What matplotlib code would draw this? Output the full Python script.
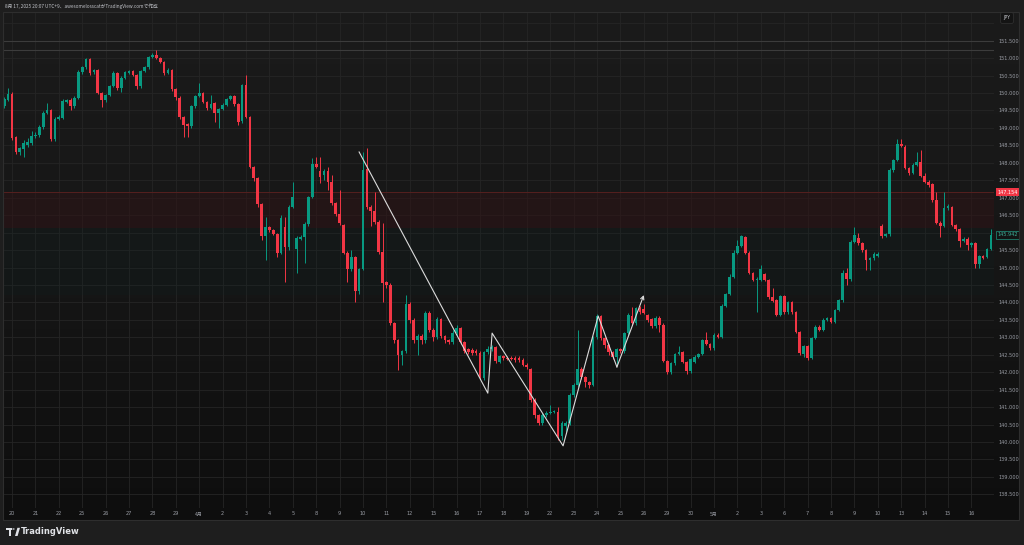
import numpy as np
import matplotlib
import matplotlib.pyplot as plt
from matplotlib.colors import LinearSegmentedColormap
from matplotlib.patches import Rectangle, Polygon, Circle

matplotlib.use("Agg")

plt.rcParams["font.family"] = ["DejaVu Sans", "Noto Sans CJK JP"]
CJK = ["Noto Sans CJK JP", "DejaVu Sans"]

# USD/JPY 4h candles, 19 Mar - 16 May
opens = [
    149.64, 149.80, 149.97, 148.74, 148.31, 148.40, 148.50, 148.57, 148.77, 148.80,
    149.03, 149.43, 149.51, 148.68, 149.26, 149.28, 149.74, 149.80, 149.63, 149.86,
    150.60, 150.74, 150.97, 150.60, 150.66, 150.00, 149.80, 149.94, 150.20, 150.57,
    150.14, 150.43, 150.58, 150.62, 150.52, 150.20, 150.63, 150.74, 151.03, 151.09,
    151.00, 150.89, 150.57, 150.66, 150.11, 149.86, 149.31, 149.11, 149.05, 149.63,
    149.91, 150.00, 149.74, 149.57, 149.71, 149.43, 149.54, 149.66, 149.83, 149.91,
    149.68, 149.20, 150.22, 149.31, 147.88, 147.56, 146.82, 145.90, 146.16, 146.07,
    145.96, 145.42, 146.16, 145.59, 146.73, 145.53, 145.82, 145.87, 146.25, 147.02,
    147.97, 147.77, 147.65, 147.77, 147.45, 146.85, 146.53, 146.22, 145.42, 144.96,
    145.30, 144.33, 144.96, 147.82, 146.73, 146.62, 146.30, 145.44, 144.58, 144.50,
    143.41, 142.92, 142.50, 142.60, 143.95, 143.50, 142.92, 143.04, 142.92, 143.70,
    143.21, 143.00, 143.52, 143.04, 142.92, 142.86, 143.12, 143.27, 142.86, 142.66,
    142.64, 142.62, 142.55, 141.83, 142.58, 142.66, 142.72, 142.29, 142.46, 142.42,
    142.42, 142.42, 142.42, 142.35, 142.21, 142.09, 141.20, 140.77, 140.54, 140.77,
    140.83, 140.86, 140.86, 140.17, 140.45, 140.55, 141.35, 141.63, 142.09, 141.86,
    141.72, 141.63, 143.01, 143.61, 142.98, 142.78, 142.58, 142.44, 142.66, 142.60,
    143.12, 143.61, 143.41, 143.84, 143.81, 143.64, 143.52, 143.32, 143.55, 143.35,
    142.32, 142.01, 142.26, 142.52, 142.58, 142.29, 142.03, 142.30, 142.44, 142.52,
    142.92, 142.81, 142.69, 143.07, 143.01, 143.90, 144.24, 144.73, 145.42, 145.62,
    145.87, 145.42, 144.84, 144.64, 144.64, 144.80, 144.64, 144.15, 144.07, 143.64,
    144.18, 143.72, 144.01, 143.72, 143.15, 142.52, 142.75, 142.41, 142.98, 143.30,
    143.21, 143.50, 143.55, 143.44, 143.78, 144.07, 144.84, 144.67, 145.73, 145.85,
    145.70, 145.50, 145.21, 145.27, 145.33, 146.19, 145.90, 145.96, 147.79, 148.08,
    148.54, 148.45, 147.85, 147.71, 147.94, 148.02, 147.62, 147.45, 147.39, 146.93,
    146.28, 146.19, 146.70, 146.73, 146.22, 146.10, 145.76, 145.82, 145.64, 145.70,
    145.10, 145.33, 145.30, 145.53,
]
highs = [
    149.88, 150.14, 150.02, 148.78, 148.46, 148.65, 148.72, 148.90, 148.88, 149.08,
    149.48, 149.71, 149.55, 149.30, 149.36, 149.82, 149.84, 149.86, 149.90, 150.65,
    150.78, 151.01, 151.00, 150.70, 150.70, 150.03, 149.98, 150.24, 150.62, 150.61,
    150.48, 150.64, 150.66, 150.65, 150.55, 150.66, 150.78, 151.06, 151.15, 151.23,
    151.03, 150.92, 150.72, 150.70, 150.14, 149.90, 149.34, 149.14, 149.67, 149.95,
    150.29, 150.04, 149.78, 149.94, 149.74, 149.58, 149.70, 149.87, 149.95, 149.95,
    149.71, 150.26, 150.52, 149.34, 147.92, 147.60, 146.86, 146.45, 146.20, 146.10,
    146.00, 146.50, 146.45, 146.78, 147.45, 145.90, 145.92, 146.30, 147.06, 148.14,
    148.17, 148.17, 147.82, 147.88, 147.65, 146.88, 147.22, 146.26, 145.46, 145.50,
    145.34, 145.00, 148.31, 148.42, 146.78, 147.16, 146.35, 146.27, 144.62, 144.55,
    143.45, 142.96, 142.65, 144.21, 144.00, 143.55, 143.10, 143.10, 143.75, 143.75,
    143.26, 143.58, 143.56, 143.08, 142.95, 143.20, 143.35, 143.30, 142.90, 142.70,
    142.68, 142.66, 142.60, 142.62, 142.75, 142.78, 142.75, 142.50, 142.50, 142.46,
    142.46, 142.46, 142.46, 142.42, 142.25, 142.12, 141.25, 140.80, 140.82, 140.88,
    141.06, 140.92, 141.00, 140.60, 140.60, 141.40, 141.70, 143.20, 142.15, 141.90,
    141.76, 143.05, 143.66, 143.65, 143.00, 142.82, 142.62, 142.70, 142.70, 143.16,
    143.70, 143.87, 143.88, 143.90, 143.95, 143.68, 143.56, 143.60, 143.60, 143.40,
    142.36, 142.30, 142.56, 142.75, 142.62, 142.33, 142.42, 142.48, 142.56, 142.96,
    143.15, 142.85, 143.11, 143.11, 143.94, 144.28, 144.81, 145.50, 145.79, 145.93,
    145.91, 145.46, 144.88, 144.72, 145.07, 144.84, 144.68, 144.41, 144.11, 144.22,
    144.22, 144.05, 144.05, 143.76, 143.19, 142.79, 142.79, 143.02, 143.34, 143.34,
    143.54, 143.59, 143.59, 143.82, 144.11, 144.93, 145.00, 145.80, 146.16, 145.99,
    145.74, 145.54, 145.31, 145.45, 145.45, 146.25, 146.00, 147.85, 148.12, 148.68,
    148.68, 148.50, 147.89, 148.00, 148.31, 148.37, 147.70, 147.50, 147.43, 147.16,
    146.32, 147.16, 146.82, 146.77, 146.26, 146.14, 145.86, 145.86, 145.74, 145.74,
    145.37, 145.37, 145.57, 146.10,
]
lows = [
    149.58, 149.76, 148.66, 148.25, 148.22, 148.17, 148.45, 148.52, 148.72, 148.75,
    148.98, 149.40, 148.62, 148.62, 149.22, 149.25, 149.70, 149.51, 149.58, 149.82,
    150.55, 150.70, 150.52, 150.55, 149.96, 149.60, 149.75, 149.90, 150.16, 150.08,
    150.03, 150.40, 150.55, 150.48, 150.12, 150.15, 150.60, 150.70, 151.00, 150.97,
    150.85, 150.52, 150.54, 150.05, 149.80, 149.25, 148.74, 148.74, 149.00, 149.58,
    149.88, 149.70, 149.52, 149.53, 149.17, 149.00, 149.50, 149.62, 149.80, 149.62,
    149.08, 149.15, 149.28, 147.84, 147.48, 146.73, 145.79, 145.21, 146.02, 145.92,
    145.30, 145.38, 144.58, 145.50, 146.70, 144.84, 145.78, 145.13, 146.20, 146.98,
    147.84, 147.42, 147.51, 147.22, 146.79, 146.48, 146.22, 145.38, 144.58, 144.90,
    144.01, 144.24, 144.92, 146.68, 146.19, 146.25, 145.40, 144.01, 144.40, 143.35,
    142.85, 142.06, 142.20, 142.55, 143.40, 142.85, 142.50, 142.80, 142.85, 143.15,
    142.90, 142.95, 142.98, 142.85, 142.80, 142.80, 143.05, 142.80, 142.55, 142.52,
    142.50, 142.48, 141.80, 141.78, 142.52, 142.60, 142.25, 142.25, 142.35, 142.34,
    142.34, 142.30, 142.30, 142.18, 142.10, 141.15, 140.70, 140.48, 140.50, 140.72,
    140.80, 140.82, 140.06, 140.05, 140.28, 140.50, 141.30, 141.58, 141.80, 141.58,
    141.55, 141.60, 142.96, 142.92, 142.70, 142.50, 142.38, 142.20, 142.55, 142.56,
    143.08, 143.35, 143.35, 143.68, 143.66, 143.45, 143.28, 143.28, 143.15, 142.28,
    141.95, 141.96, 142.22, 142.48, 142.25, 141.95, 141.99, 142.26, 142.40, 142.48,
    142.78, 142.65, 142.65, 142.97, 142.97, 143.86, 144.20, 144.70, 145.38, 145.58,
    145.38, 144.80, 144.60, 143.72, 144.60, 144.60, 144.10, 144.00, 143.60, 143.60,
    143.68, 143.68, 143.68, 143.11, 142.48, 142.44, 142.35, 142.37, 142.94, 143.17,
    143.17, 143.46, 143.40, 143.40, 143.74, 144.00, 144.50, 144.60, 145.70, 145.65,
    145.45, 144.93, 144.93, 145.22, 145.29, 145.85, 145.86, 145.90, 147.75, 148.04,
    148.44, 147.81, 147.65, 147.67, 147.90, 147.58, 147.41, 147.30, 146.89, 146.24,
    145.87, 146.15, 146.66, 146.18, 146.06, 145.60, 145.72, 145.50, 145.60, 144.99,
    144.99, 145.23, 145.26, 145.49,
]
closes = [
    149.82, 149.96, 148.70, 148.31, 148.42, 148.57, 148.60, 148.77, 148.80, 149.03,
    149.43, 149.51, 148.68, 149.26, 149.31, 149.77, 149.80, 149.63, 149.86, 150.60,
    150.74, 150.97, 150.57, 150.66, 150.00, 149.80, 149.94, 150.20, 150.57, 150.14,
    150.43, 150.60, 150.63, 150.52, 150.20, 150.63, 150.74, 151.03, 151.09, 151.00,
    150.89, 150.57, 150.66, 150.11, 149.89, 149.31, 149.08, 149.05, 149.63, 149.91,
    150.00, 149.74, 149.57, 149.68, 149.43, 149.54, 149.66, 149.83, 149.91, 149.68,
    149.17, 150.22, 149.31, 147.88, 147.56, 146.82, 145.90, 146.16, 146.07, 145.96,
    145.42, 146.42, 145.59, 146.73, 147.02, 145.85, 145.87, 146.25, 147.02, 147.97,
    147.88, 147.59, 147.77, 147.45, 146.85, 146.53, 146.27, 145.42, 144.96, 145.30,
    144.33, 144.96, 147.79, 146.73, 146.62, 146.30, 145.44, 144.56, 144.50, 143.41,
    142.92, 142.50, 142.60, 143.95, 143.50, 142.92, 143.04, 142.92, 143.70, 143.21,
    143.00, 143.52, 143.04, 142.92, 142.86, 143.12, 143.27, 142.86, 142.61, 142.58,
    142.55, 142.55, 141.86, 142.58, 142.66, 142.72, 142.32, 142.46, 142.40, 142.38,
    142.38, 142.35, 142.35, 142.21, 142.15, 141.20, 140.77, 140.54, 140.77, 140.83,
    140.86, 140.88, 140.17, 140.54, 140.55, 141.35, 141.63, 142.09, 141.86, 141.72,
    141.63, 143.01, 143.61, 142.98, 142.78, 142.58, 142.44, 142.66, 142.60, 143.12,
    143.64, 143.41, 143.84, 143.72, 143.70, 143.50, 143.32, 143.55, 143.35, 142.32,
    142.01, 142.26, 142.52, 142.58, 142.29, 142.03, 142.38, 142.44, 142.52, 142.92,
    142.81, 142.69, 143.07, 143.01, 143.90, 144.24, 144.73, 145.42, 145.62, 145.90,
    145.42, 144.84, 144.64, 144.67, 144.96, 144.64, 144.15, 144.04, 143.64, 144.18,
    143.72, 144.01, 143.72, 143.15, 142.55, 142.75, 142.41, 142.98, 143.30, 143.21,
    143.50, 143.55, 143.44, 143.78, 144.07, 144.84, 144.67, 145.73, 145.93, 145.70,
    145.50, 145.21, 145.27, 145.39, 145.39, 145.90, 145.96, 147.79, 148.08, 148.54,
    148.48, 147.85, 147.71, 147.94, 148.02, 147.62, 147.45, 147.36, 146.93, 146.28,
    146.19, 146.70, 146.76, 146.22, 146.10, 145.76, 145.82, 145.64, 145.70, 145.10,
    145.33, 145.27, 145.53, 145.942,
]

# one label per trading day, six 4h bars a day, first bar of day "20" is bar 2
day_labels = ["20", "21", "22", "25", "26", "27", "28", "29", "4月", "2", "3", "4", "5",
              "8", "9", "10", "11", "12", "15", "16", "17", "18", "19", "22", "23", "24",
              "25", "26", "29", "30", "5月", "2", "3", "6", "7", "8", "9", "10", "13",
              "14", "15", "16"]
bars_per_day = 6
first_day_bar = 2

# hand-drawn zigzag (bar index, price)
zz_bar = [91.0, 124.0, 125.1, 143.3, 152.3, 157.1, 164.0]
zz_price = [148.31, 141.40, 143.12, 139.89, 143.61, 142.15, 144.21]

hlines = [151.5, 151.22]
alert_price = 147.154
last_price = 145.942

UP, DOWN = "#089981", "#f23645"
W, H = 1024, 545


def fig_box(x0, y0, x1, y1):
    return [x0 / W, 1 - y1 / H, (x1 - x0) / W, (y1 - y0) / H]


fig = plt.figure(figsize=(W / 100, H / 100), dpi=100, facecolor="#1e1e1e")

# panel background with the dark vertical gradient
bg = fig.add_axes(fig_box(3, 12, 1019, 520))
grad = LinearSegmentedColormap.from_list("bg", ["#0e0e0e", "#161616", "#1b1b1b"])
bg.imshow(np.linspace(0, 1, 256)[:, None], aspect="auto", cmap=grad, origin="lower",
          extent=[0, 1, 0, 1])
bg.set_xlim(0, 1)
bg.set_ylim(0, 1)
bg.axis("off")
fig.patches.append(Rectangle((3 / W, 1 - 520 / H), 1016 / W, 508 / H, transform=fig.transFigure,
                             fill=False, ec="#2e2e2e", lw=0.8))

ax = fig.add_axes(fig_box(3, 12, 994, 508))
ax.patch.set_alpha(0)
for s in ax.spines.values():
    s.set_visible(False)

o = np.array(opens)
h = np.array(highs)
l = np.array(lows)
c = np.array(closes)
x = np.arange(len(o))
cols = np.where(c >= o, UP, DOWN)

ax.set_xlim(-0.31, 253.79)
ax.set_ylim(138.109, 152.321)

# grid and axes labels
yt = np.arange(138.5, 152.01, 0.5)
ax.set_yticks(yt)
ax.set_yticklabels([f"{v:.3f}" if v < 152 else "" for v in yt])
xt = [first_day_bar + bars_per_day * k for k in range(len(day_labels))]
ax.set_xticks(xt)
ax.set_xticklabels(day_labels)
for lab in ax.get_xticklabels():
    if "月" in lab.get_text():
        lab.set_fontfamily(CJK)
        lab.set_color("#c4c6cc")
ax.yaxis.tick_right()
ax.tick_params(axis="y", length=0, pad=3, labelsize=3.6, colors="#9a9da5")
ax.tick_params(axis="x", length=0, pad=2.5, labelsize=3.6, colors="#9a9da5")
ax.grid(color="#252525", lw=0.6)
ax.set_axisbelow(True)

# shaded zones and drawn levels
ax.axhspan(146.13, alert_price, color="#301416", alpha=0.5, lw=0, zorder=1)
ax.axhspan(144.2, 146.13, color="#0f2422", alpha=0.2, lw=0, zorder=1)
ax.axhline(alert_price, color="#55201f", lw=0.7, zorder=1)
for v in hlines:
    ax.axhline(v, color="#3c3c3c", lw=0.8, zorder=1)

# candles
ax.vlines(x, l, h, colors=cols, lw=0.7, zorder=3)
ax.bar(x, np.maximum(np.abs(c - o), 0.02), bottom=np.minimum(o, c), width=0.68,
       color=cols, lw=0, zorder=4)

# zigzag drawing with arrow
ax.plot(zz_bar[:-1], zz_price[:-1], color="#dcdcdc", lw=0.8, zorder=6)
ax.annotate("", xy=(zz_bar[-1], zz_price[-1]), xytext=(zz_bar[-2], zz_price[-2]),
            arrowprops=dict(arrowstyle="->", color="#dcdcdc", lw=0.8, mutation_scale=6,
                            shrinkA=0, shrinkB=0), zorder=6)

# price scale labels
ytr = ax.get_yaxis_transform()
ax.text(1.0035, alert_price, f"{alert_price:.3f}", transform=ytr, ha="left", va="center",
        fontsize=3.6, color="white", zorder=8,
        bbox=dict(boxstyle="square,pad=0.3", fc=DOWN, ec="none"))
ax.text(1.0035, last_price, f"{last_price:.3f}", transform=ytr, ha="left", va="center",
        fontsize=3.6, color="#3fae98", zorder=8,
        bbox=dict(boxstyle="square,pad=0.3", fc="#121414", ec="#1d7d6c", lw=0.6))

# currency box
fig.text(1007 / W, 1 - 18 / H, "JPY", ha="center", va="center", fontsize=3.4, color="#c8cad0",
         bbox=dict(boxstyle="round,pad=0.6,rounding_size=0.3", fc="#141414", ec="#333333", lw=0.5))

# header
fig.text(5 / W, 1 - 6 / H, "8月 17, 2025 20:07 UTC+9、awesomelosscatがTradingView.comで作成",
         ha="left", va="center", fontsize=3.4, color="#c0c2c8", fontfamily=CJK)

# footer logo
logo = "#e0e2e6"
fig.patches.append(Rectangle((6 / W, 1 - 530 / H), 6 / W, 2.2 / H, transform=fig.transFigure,
                             fc=logo, ec="none"))
fig.patches.append(Rectangle((8.8 / W, 1 - 536 / H), 2.4 / W, 6 / H, transform=fig.transFigure,
                             fc=logo, ec="none"))
fig.patches.append(Circle((13.5 / W, 1 - 529 / H), 1.2 / W, transform=fig.transFigure,
                          fc=logo, ec="none"))
fig.patches.append(Polygon([(15 / W, 1 - 536 / H), (17.6 / W, 1 - 536 / H),
                            (20 / W, 1 - 527.8 / H), (17.4 / W, 1 - 527.8 / H)],
                           closed=True, transform=fig.transFigure, fc=logo, ec="none"))
fig.text(21 / W, 1 - 532 / H, "TradingView", ha="left", va="center", fontsize=6,
         fontweight="bold", color=logo)

fig.savefig("out.png", dpi=100, facecolor=fig.get_facecolor())
